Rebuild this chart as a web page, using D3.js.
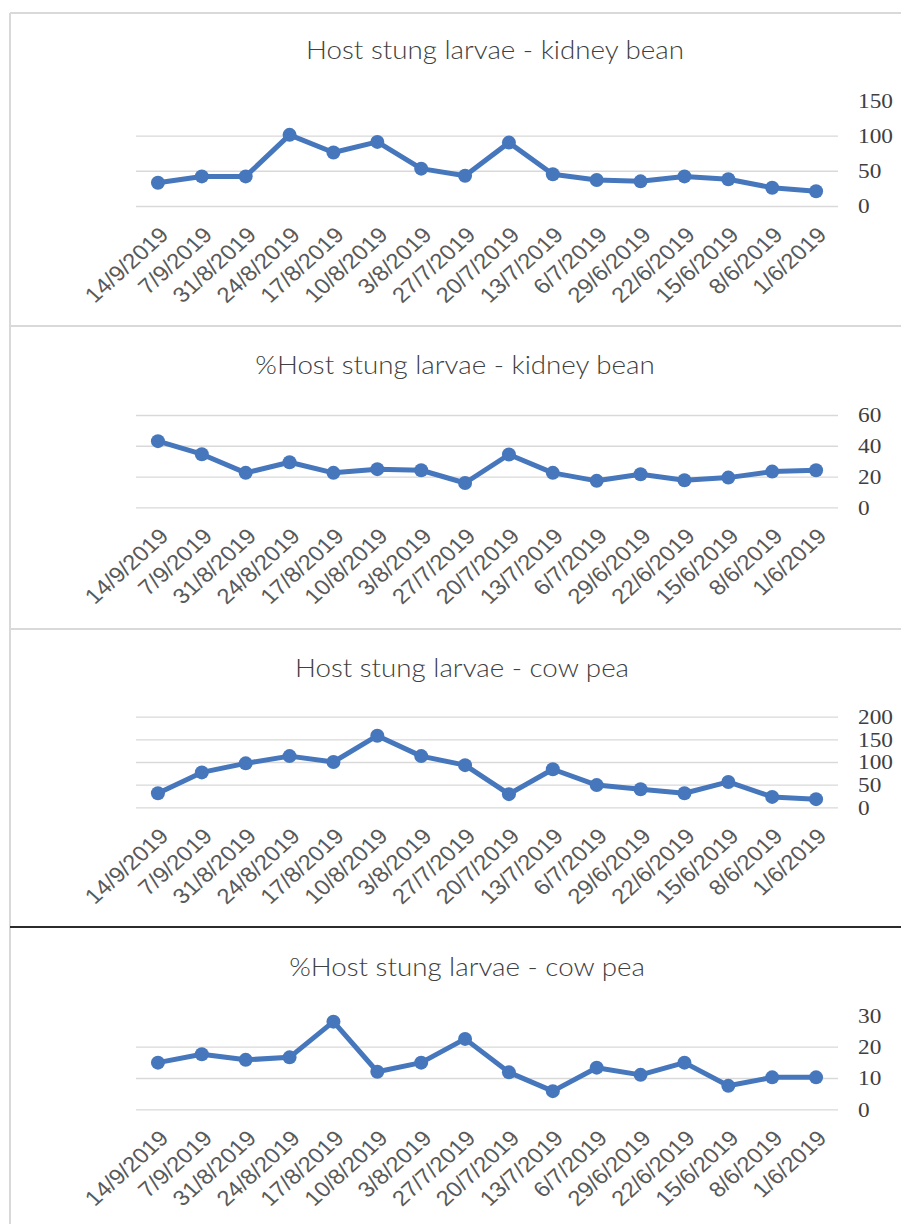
<!DOCTYPE html>
<html>
<head>
<meta charset="utf-8">
<title>Host stung larvae</title>
<script src="https://cdn.jsdelivr.net/npm/d3@7"></script>
<style>
	body { margin: 0; background: #fff; }
	svg { display: block; }
	.title { font-family: Lato, "Open Sans", sans-serif; font-weight: 300; fill: #404040; }
	.xlab text { font-family: "Liberation Sans", Arial, sans-serif; fill: #595959; }
	.ylab text { font-family: "Liberation Serif", serif; fill: #404040; }
</style>
</head>
<body>
<div id="root"></div>
<script>
// sampling dates, as printed on the x axis (newest first)
const dates = ["14/9/2019", "7/9/2019", "31/8/2019", "24/8/2019", "17/8/2019", "10/8/2019",
	"3/8/2019", "27/7/2019", "20/7/2019", "13/7/2019", "6/7/2019", "29/6/2019",
	"22/6/2019", "15/6/2019", "8/6/2019", "1/6/2019"];

// series values
const kidneyCount = [33, 42, 42, 101, 76, 91, 53, 43, 90, 45, 37, 35, 42, 38, 26, 21];
const kidneyPct = [43, 34.5, 22.4, 29.3, 22.4, 24.8, 24.1, 15.8, 34.3, 22.4, 17.2, 21.5, 17.6, 19.3, 23.2, 24.1];
const cowCount = [31, 77, 97, 113, 100, 158, 113, 93, 29, 84, 49, 40, 31, 56, 23, 18];
const cowPct = [14.9, 17.6, 15.8, 16.6, 28, 12, 14.9, 22.5, 11.8, 5.8, 13.3, 11, 14.9, 7.5, 10.2, 10.2];

// y tick labels for each panel
const kidneyCountTicks = [0, 50, 100, 150];
const kidneyPctTicks = [0, 20, 40, 60];
const cowCountTicks = [0, 50, 100, 150, 200];
const cowPctTicks = [0, 10, 20, 30];

const width = 901;
const height = 1224;
const left = 136, right = 838;
const stretch = 1.11; // the source screenshot is a bit wider than tall
const blue = "#4677bd";

const svg = d3.select("#root").append("svg")
	.attr("width", width)
	.attr("height", height);

// panel frames
svg.append("line").attr("x1", 10).attr("x2", 10).attr("y1", 13).attr("y2", height)
	.attr("stroke", "#d9d9d9").attr("stroke-width", 2);
[13, 326, 629].forEach(y => {
	svg.append("line").attr("x1", 10).attr("x2", width).attr("y1", y).attr("y2", y)
		.attr("stroke", "#d9d9d9").attr("stroke-width", 2);
});
svg.append("line").attr("x1", 10).attr("x2", width).attr("y1", 927).attr("y2", 927)
	.attr("stroke", "#2b2b2b").attr("stroke-width", 2);

const x = d3.scaleBand().domain(dates).range([left, right]);

const panels = [
	{ title: "Host stung larvae - kidney bean", values: kidneyCount, ticks: kidneyCountTicks, grid: [0, 50, 100],
	  tx: 495, ty: 59, y0: 206, y1: 100.3 },
	{ title: "%Host stung larvae - kidney bean", values: kidneyPct, ticks: kidneyPctTicks, grid: kidneyPctTicks,
	  tx: 455, ty: 374, y0: 507.3, y1: 415 },
	{ title: "Host stung larvae - cow pea", values: cowCount, ticks: cowCountTicks, grid: cowCountTicks,
	  tx: 462, ty: 677, y0: 807.3, y1: 716.7 },
	{ title: "%Host stung larvae - cow pea", values: cowPct, ticks: cowPctTicks, grid: [0, 10, 20],
	  tx: 467, ty: 976, y0: 1109.3, y1: 1015.4 }
];

panels.forEach(p => {
	const maxTick = p.ticks[p.ticks.length - 1];
	const y = d3.scaleLinear().domain([0, maxTick]).range([p.y0, p.y1]);
	const g = svg.append("g");

	// title
	g.append("text")
		.attr("class", "title")
		.attr("transform", "translate(" + p.tx + "," + p.ty + ") scale(" + stretch + ",1)")
		.attr("text-anchor", "middle")
		.attr("font-size", "25px")
		.text(p.title);

	// gridlines
	const grid = g.append("g")
		.attr("transform", "translate(" + left + ",0)")
		.call(d3.axisLeft(y).tickValues(p.grid).tickSize(-(right - left)).tickFormat(""));
	grid.select(".domain").remove();
	grid.selectAll("line").attr("stroke", "#d9d9d9").attr("stroke-width", 1.3);

	// y labels on the right
	const ya = g.append("g")
		.attr("class", "ylab")
		.attr("transform", "translate(" + right + ",0)")
		.call(d3.axisRight(y).tickValues(p.ticks).tickSize(0).tickPadding(0));
	ya.select(".domain").remove();
	ya.selectAll("text")
		.attr("x", 20 / stretch)
		.attr("transform", "scale(" + stretch + ",1)")
		.attr("font-size", "21px");

	// x labels, rotated
	const xa = g.append("g")
		.attr("class", "xlab")
		.attr("transform", "translate(0," + p.y0 + ")")
		.call(d3.axisBottom(x).tickSize(0));
	xa.select(".domain").remove();
	xa.selectAll("text")
		.attr("x", 0).attr("y", 0).attr("dy", "0.35em")
		.attr("text-anchor", "end")
		.attr("font-size", "21.5px")
		.attr("transform", "translate(6,25) scale(" + stretch + ",1) rotate(-45)");

	// series
	const line = d3.line()
		.x((d, i) => x(dates[i]) + x.bandwidth() / 2)
		.y(d => y(d));

	g.append("path")
		.datum(p.values)
		.attr("d", line)
		.attr("fill", "none")
		.attr("stroke", blue)
		.attr("stroke-width", 5)
		.attr("stroke-linejoin", "round");

	g.selectAll("circle")
		.data(p.values)
		.enter()
		.append("circle")
		.attr("cx", (d, i) => x(dates[i]) + x.bandwidth() / 2)
		.attr("cy", d => y(d))
		.attr("r", 7)
		.attr("fill", blue);
});
</script>
</body>
</html>
